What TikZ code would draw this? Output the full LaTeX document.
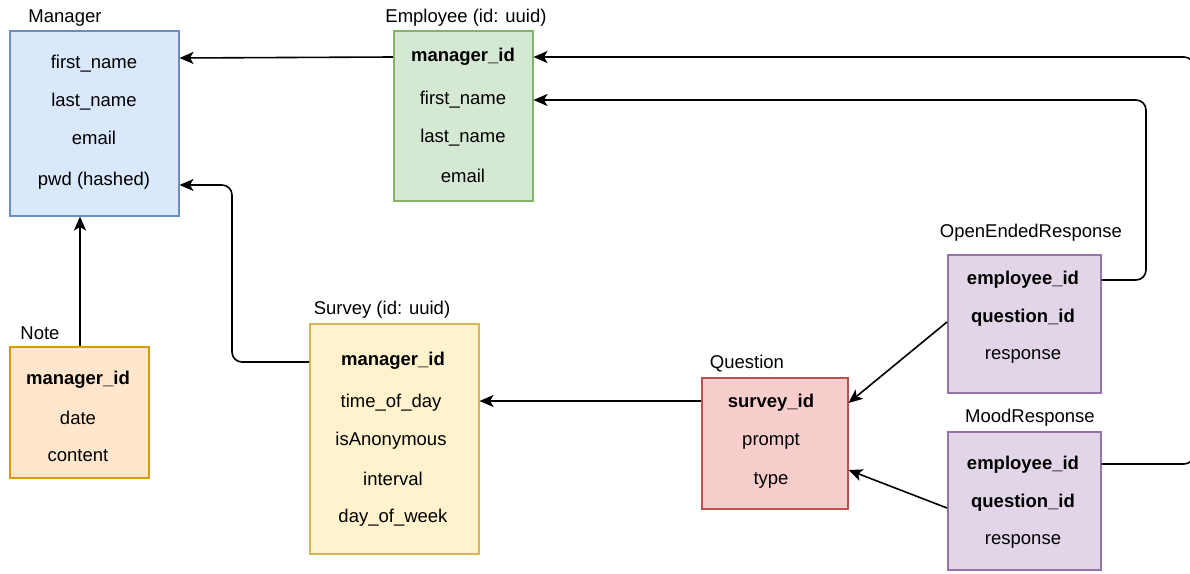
\documentclass[tikz,border=0pt]{standalone}
\usepackage{fontspec}
\setmainfont{Liberation Sans}
\usetikzlibrary{arrows.meta}
\definecolor{mgrF}{HTML}{DAE8FC}\definecolor{mgrD}{HTML}{6C8EBF}
\definecolor{empF}{HTML}{D5E8D4}\definecolor{empD}{HTML}{82B366}
\definecolor{noteF}{HTML}{FFE6CC}\definecolor{noteD}{HTML}{D79B00}
\definecolor{svyF}{HTML}{FFF2CC}\definecolor{svyD}{HTML}{D6B656}
\definecolor{qF}{HTML}{F8CECC}\definecolor{qD}{HTML}{B85450}
\definecolor{rF}{HTML}{E1D5E7}\definecolor{rD}{HTML}{9673A6}
\begin{document}
\begin{tikzpicture}[x=1pt,y=-1pt,
  ent/.style={draw, line width=1.5pt, anchor=north west, inner sep=0pt},
  fld/.style={font=\fontsize{18.5}{22}\selectfont, inner sep=1pt},
  key/.style={fld, font=\fontsize{18.5}{22}\selectfont\bfseries},
  ttl/.style={font=\fontsize{18.5}{22}\selectfont, inner sep=1pt},
  conn/.style={line width=1.6pt, -{Stealth[length=14pt,width=12pt,inset=3.5pt]}, rounded corners=10pt}]
\useasboundingbox (0,0) rectangle (1190,573);
\clip (0,0) rectangle (1190,573);
\fill[white] (0,0) rectangle (1190,573);

% Manager
\node[ent, fill=mgrF, draw=mgrD, minimum width=169pt, minimum height=185pt] (mgr) at (9,30) {};
\node[ttl] (mgrt) at (65,18) {Manager};
\node[fld] (mfn) at (94,64) {first\_name};
\node[fld] (mln) at (94,102) {last\_name};
\node[fld] (mem) at (94,138) {email};
\node[fld] (mpw) at (94,181) {pwd (hashed)};

% Employee
\node[ent, fill=empF, draw=empD, minimum width=139pt, minimum height=170pt] (emp) at (393,30) {};
\node[ttl] (empt) at (466,18) {Employee (id: uuid)};
\node[key] (emid) at (463,57) {manager\_id};
\node[fld] (efn) at (463,100) {first\_name};
\node[fld] (eln) at (463,138) {last\_name};
\node[fld] (eem) at (463,176) {email};

% Note
\node[ent, fill=noteF, draw=noteD, minimum width=139pt, minimum height=131pt] (note) at (9,346) {};
\node[ttl] (notet) at (40,333) {Note};
\node[key] (nmid) at (78,380) {manager\_id};
\node[fld] (ndt) at (78,418) {date};
\node[fld] (nct) at (78,456) {content};

% Survey
\node[ent, fill=svyF, draw=svyD, minimum width=169pt, minimum height=230pt] (svy) at (309,323) {};
\node[ttl] (svyt) at (382,310) {Survey (id: uuid)};
\node[key] (smid) at (393,361) {manager\_id};
\node[fld] (stod) at (391,403) {time\_of\_day};
\node[fld] (sano) at (391,441) {isAnonymous};
\node[fld] (sint) at (393,479) {interval};
\node[fld] (sdow) at (393,518) {day\_of\_week};

% Question
\node[ent, fill=qF, draw=qD, minimum width=146pt, minimum height=131pt] (q) at (701,377) {};
\node[ttl] (qt) at (747,364) {Question};
\node[key] (qsid) at (771,403) {survey\_id};
\node[fld] (qpr) at (771,441) {prompt};
\node[fld] (qty) at (771,480) {type};

% OpenEndedResponse
\node[ent, fill=rF, draw=rD, minimum width=153pt, minimum height=138pt] (oer) at (947,254) {};
\node[ttl] (oert) at (1031,233) {OpenEndedResponse};
\node[key] (oeid) at (1023,280) {employee\_id};
\node[key] (oqid) at (1023,318) {question\_id};
\node[fld] (ores) at (1023,356) {response};

% MoodResponse
\node[ent, fill=rF, draw=rD, minimum width=153pt, minimum height=138pt] (mr) at (947,431) {};
\node[ttl] (mrt) at (1030,418) {MoodResponse};
\node[key] (meid) at (1023,465) {employee\_id};
\node[key] (mqid) at (1023,503) {question\_id};
\node[fld] (mres) at (1023,541) {response};

% bend points
\coordinate (b1) at (232,362);
\coordinate (b2) at (232,185);
\coordinate (b3) at (1146,280);
\coordinate (b4) at (1146,100);
\coordinate (b5) at (1194,464);
\coordinate (b6) at (1194,57);

% connectors
\draw[conn] (emp.west |- 0,57) -- (mgr.east |- 0,58);
\draw[conn] (note.north -| 80,0) -- (mgr.south -| 80,0);
\draw[conn] (svy.west |- b1) -- (b1) -- (b2) -- (mgr.east |- b2);
\draw[conn] (q.west |- 0,401) -- (svy.east |- 0,401);
\draw[conn] (oer.west |- 0,322) -- (q.east |- 0,403);
\draw[conn] (mr.west |- 0,508) -- (q.east |- 0,470);
\draw[conn] (oer.east |- b3) -- (b3) -- (b4) -- (emp.east |- b4);
\draw[conn] (mr.east |- b5) -- (b5) -- (b6) -- (emp.east |- b6);
\end{tikzpicture}
\end{document}
